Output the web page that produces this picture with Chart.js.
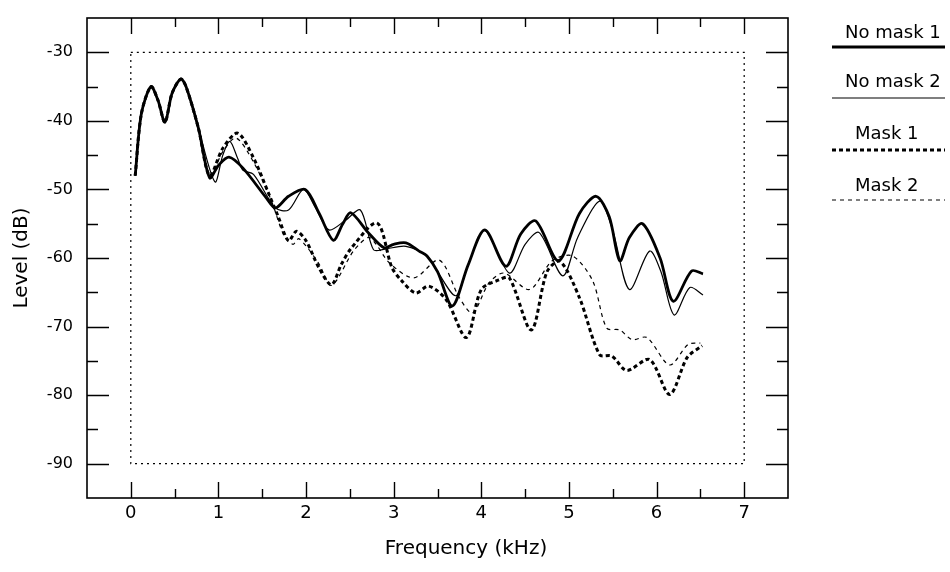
<!DOCTYPE html>
<html>
<head>
<meta charset="utf-8">
<script src="https://cdn.jsdelivr.net/npm/chart.js@4.4.1/dist/chart.umd.min.js"></script>
<style>
  html, body { margin: 0; padding: 0; background: #fff; }
  #wrap { width: 950px; height: 572px; }
</style>
</head>
<body>
<div id="wrap"><canvas id="grafico" width="950" height="572"></canvas></div>
<script>
// data (frequency in kHz, level in dB)
const noMask1F = [0.05,0.12,0.23,0.31,0.39,0.47,0.57,0.63,0.77,0.9,1.0,1.12,1.28,1.55,1.65,1.8,1.99,2.15,2.31,2.42,2.51,2.71,2.89,3.0,3.14,3.29,3.38,3.5,3.67,3.85,4.04,4.28,4.45,4.62,4.88,5.12,5.31,5.46,5.58,5.69,5.84,6.04,6.19,6.4,6.53];
const noMask1L = [-48,-39,-35,-37,-40.2,-36,-33.9,-35,-41,-48.3,-46.5,-45.3,-46.9,-51.3,-52.7,-51,-50,-53.5,-57.4,-55,-53.4,-56.3,-58.5,-58,-57.8,-59,-59.7,-62,-67,-61,-55.9,-61.2,-56.5,-54.6,-60.4,-53.5,-51,-54,-60.4,-57,-55,-60,-66.3,-61.9,-62.3];

const noMask2F = [0.05,0.12,0.23,0.31,0.39,0.47,0.57,0.63,0.77,0.96,1.05,1.13,1.22,1.28,1.4,1.65,1.8,1.97,2.1,2.26,2.45,2.62,2.77,2.9,3.14,3.38,3.5,3.71,3.85,4.04,4.32,4.5,4.66,4.93,5.1,5.35,5.5,5.69,5.92,6.05,6.2,6.38,6.53];
const noMask2L = [-48,-39,-35,-37,-40.2,-36,-33.9,-35,-41,-48.9,-45,-43,-45.5,-47.2,-47.8,-52.7,-53,-50,-52.5,-55.9,-54.5,-53,-58.8,-58.7,-58.3,-59.7,-62,-65.5,-61,-56,-62.2,-58,-56.3,-62.6,-57,-51.7,-56,-64.6,-59,-62,-68.3,-64.3,-65.4];

const mask1F = [0.05,0.12,0.23,0.31,0.39,0.47,0.57,0.63,0.77,0.9,1.05,1.22,1.4,1.57,1.68,1.8,1.89,2.0,2.15,2.29,2.4,2.52,2.81,2.98,3.09,3.25,3.4,3.6,3.83,4.0,4.2,4.32,4.57,4.75,4.9,5.12,5.35,5.49,5.66,5.92,6.15,6.35,6.52];
const mask1L = [-48,-39,-35,-37,-40.2,-36,-33.9,-35,-41,-48,-44,-41.8,-45.4,-50.5,-53.9,-57.5,-56.1,-57.5,-61.5,-63.9,-61,-58.5,-54.9,-61.4,-63.3,-65.1,-64.1,-66.1,-71.6,-64.6,-63.2,-62.9,-70.5,-62,-60.5,-65.8,-74.1,-74.3,-76.4,-74.8,-79.9,-74.5,-72.8];

const mask2F = [0.05,0.12,0.23,0.31,0.39,0.47,0.57,0.63,0.77,0.9,1.05,1.2,1.4,1.6,1.75,1.85,1.92,2.14,2.29,2.54,2.71,2.8,2.95,3.23,3.52,3.75,3.9,4.09,4.26,4.55,4.81,5.04,5.27,5.43,5.58,5.72,5.89,6.15,6.36,6.5];
const mask2L = [-48,-39,-35,-37,-40.2,-36,-33.9,-35,-41,-48,-44.5,-42.5,-46,-51.5,-56.8,-58,-57.2,-60.7,-64,-59,-57,-58,-60.7,-62.9,-60.3,-65.8,-68,-63.6,-62.2,-64.6,-60.4,-59.7,-63.3,-70.2,-70.5,-71.9,-71.6,-75.6,-72.6,-72.4];

const seriesNames = ["No mask 1", "No mask 2", "Mask 1", "Mask 2"];
const xTickLabels = [0, 1, 2, 3, 4, 5, 6, 7];
const yTickLabels = [-90, -80, -70, -60, -50, -40, -30];
const boxF = [0, 7];      // dotted reference box
const boxL = [-90, -30];

const FONT = "'DejaVu Sans', Arial, sans-serif";

function puntos(fs, ls) {
  return fs.map((f, i) => ({ x: f, y: ls[i] }));
}

const estilos = [
  { width: 2.8, dash: [] },
  { width: 1.2, dash: [] },
  { width: 3, dash: [4, 3] },
  { width: 1.2, dash: [4, 4] }
];
const datos = [puntos(noMask1F, noMask1L), puntos(noMask2F, noMask2L), puntos(mask1F, mask1L), puntos(mask2F, mask2L)];

// frame, inward ticks, dotted box, x title and legend
const marco = {
  id: 'marco',
  beforeDatasetsDraw(chart) {
    const ctx = chart.ctx;
    const x = chart.scales.x, y = chart.scales.y;
    ctx.save();
    ctx.strokeStyle = '#000';
    ctx.lineWidth = 1.2;
    ctx.setLineDash([2, 4]);
    ctx.beginPath();
    ctx.rect(x.getPixelForValue(boxF[0]), y.getPixelForValue(boxL[1]),
      x.getPixelForValue(boxF[1]) - x.getPixelForValue(boxF[0]),
      y.getPixelForValue(boxL[0]) - y.getPixelForValue(boxL[1]));
    ctx.stroke();
    ctx.restore();
  },
  afterDraw(chart) {
    const ctx = chart.ctx;
    const a = chart.chartArea;
    const x = chart.scales.x, y = chart.scales.y;
    ctx.save();
    ctx.strokeStyle = '#000';
    ctx.lineWidth = 1.6;
    ctx.setLineDash([]);
    ctx.strokeRect(a.left, a.top, a.right - a.left, a.bottom - a.top);

    ctx.lineWidth = 1.4;
    ctx.beginPath();
    for (let v = -0.5; v <= 7.5; v += 0.5) {
      const px = Math.round(x.getPixelForValue(v)) + 0.5;
      const mayor = xTickLabels.includes(v);
      const len = mayor ? 16 : 9;
      if (px <= a.left + 1 || px >= a.right - 1) continue;
      ctx.moveTo(px, a.bottom); ctx.lineTo(px, a.bottom - len);
      ctx.moveTo(px, a.top); ctx.lineTo(px, a.top + len);
    }
    for (let v = -95; v <= -25; v += 5) {
      const py = Math.round(y.getPixelForValue(v)) + 0.5;
      if (py <= a.top + 1 || py >= a.bottom - 1) continue;
      const mayor = yTickLabels.includes(v);
      const len = mayor ? 22 : 11;
      ctx.moveTo(a.left, py); ctx.lineTo(a.left + len, py);
      ctx.moveTo(a.right, py); ctx.lineTo(a.right - len, py);
    }
    ctx.stroke();

    ctx.fillStyle = '#000';
    ctx.font = '20px ' + FONT;
    ctx.textAlign = 'center';
    ctx.textBaseline = 'middle';
    ctx.fillText('Frequency (kHz)', 466, 549);

    // legend: name above a line sample
    const lx0 = 832, lx1 = 945;
    const lineas = [47, 98, 150, 200];
    const bases = [38, 87, 139, 191];
    const textoX = [845, 845, 855, 855];
    ctx.font = '18px ' + FONT;
    ctx.textAlign = 'left';
    ctx.textBaseline = 'alphabetic';
    seriesNames.forEach((n, i) => {
      ctx.fillText(n, textoX[i], bases[i]);
      ctx.lineWidth = estilos[i].width;
      ctx.setLineDash(estilos[i].dash);
      ctx.beginPath();
      ctx.moveTo(lx0, lineas[i]);
      ctx.lineTo(lx1, lineas[i]);
      ctx.stroke();
    });
    ctx.restore();
  }
};

Chart.defaults.font.family = FONT;
Chart.defaults.color = '#000';

new Chart(document.getElementById('grafico').getContext('2d'), {
  type: 'scatter',
  data: {
    datasets: datos.map((d, i) => ({
      label: seriesNames[i],
      data: d,
      showLine: true,
      borderColor: '#000',
      backgroundColor: '#000',
      borderWidth: estilos[i].width,
      borderDash: estilos[i].dash,
      pointRadius: 0,
      tension: 0.3,
      fill: false
    }))
  },
  options: {
    responsive: false,
    animation: false,
    layout: { padding: { left: 0, top: 18, right: 162, bottom: 0 } },
    plugins: { legend: { display: false }, tooltip: { enabled: false } },
    scales: {
      x: {
        type: 'linear',
        min: -0.5,
        max: 7.5,
        grid: { display: false, drawTicks: false },
        border: { display: false },
        ticks: {
          stepSize: 0.5,
          autoSkip: false,
          maxRotation: 0,
          padding: 5,
          font: { size: 18 },
          callback: v => xTickLabels.includes(v) ? String(v) : ''
        },
        afterFit: s => { s.height = 74; s.paddingLeft = 0; s.paddingRight = 0; }
      },
      y: {
        min: -95,
        max: -25,
        grid: { display: false, drawTicks: false },
        border: { display: false },
        ticks: {
          stepSize: 5,
          autoSkip: false,
          padding: 14,
          font: { size: 16 },
          callback: v => yTickLabels.includes(v) ? String(v) : ''
        },
        title: { display: true, text: 'Level (dB)', font: { size: 20 }, padding: { top: 10, bottom: 0 } },
        afterFit: s => { s.width = 87; s.paddingTop = 0; s.paddingBottom = 0; }
      }
    }
  },
  plugins: [marco]
});
</script>
</body>
</html>
